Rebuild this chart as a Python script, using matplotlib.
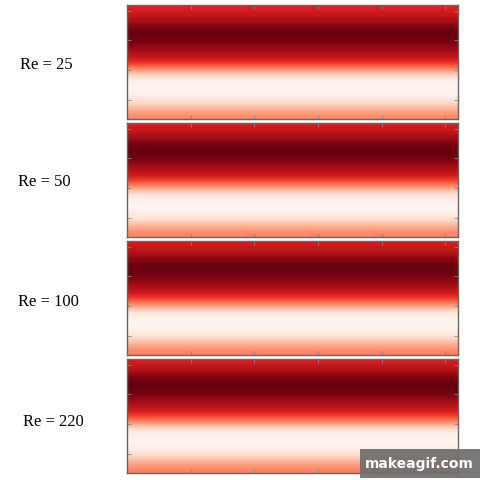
import matplotlib
matplotlib.use("Agg")
import matplotlib.pyplot as plt
from matplotlib.patches import Rectangle
import numpy as np

# Reynolds numbers shown next to each panel
re_values = [25, 50, 100, 220]

# vertical profile of the field (top -> bottom),
# in colormap units 0..1
profile_re25 = [0.70, 0.76, 0.88, 0.98, 1.00, 0.97, 0.90, 0.80, 0.68,
                0.42, 0.14, 0.02, 0.00, 0.04, 0.14, 0.28, 0.40]
profile_re50 = [0.72, 0.80, 0.92, 0.99, 1.00, 0.96, 0.88, 0.78, 0.64,
                0.38, 0.12, 0.02, 0.00, 0.04, 0.15, 0.30, 0.42]
profile_re100 = [0.72, 0.80, 0.92, 0.99, 1.00, 0.96, 0.88, 0.78, 0.64,
                 0.38, 0.12, 0.02, 0.00, 0.04, 0.15, 0.30, 0.42]
profile_re220 = [0.72, 0.82, 0.94, 1.00, 1.00, 0.95, 0.87, 0.76, 0.62,
                 0.36, 0.11, 0.02, 0.00, 0.05, 0.16, 0.31, 0.43]
profiles = [profile_re25, profile_re50, profile_re100, profile_re220]

# label positions (pixels from top) and panel tops/bottoms
label_x = [20, 18, 18, 23]
label_y = [65, 182, 302, 422]
panel_top = [5, 123, 241, 359]
panel_bot = [119, 237, 355, 473]

W = H = 480
fig = plt.figure(figsize=(4.8, 4.8), dpi=100)

left, right = 127, 458
for i, prof in enumerate(profiles):
    ax = fig.add_axes([left / W, 1 - panel_bot[i] / H,
                       (right - left) / W, (panel_bot[i] - panel_top[i]) / H])
    field = np.tile(np.array(prof)[:, None], (1, 8))
    ax.imshow(field, cmap="Reds", vmin=0, vmax=1, aspect="auto",
              interpolation="bicubic", extent=[0, 5.2, 0, 1], origin="upper")
    ax.set_xlim(0, 5.2)
    ax.set_ylim(0, 1)
    ax.set_xticks([1, 2, 3, 4, 5])
    ax.set_yticks([0.17, 0.43, 0.69, 0.95])
    ax.tick_params(direction="in", length=3, width=0.6, colors="#888888",
                   top=True, right=True, labelleft=False, labelbottom=False)
    for s in ax.spines.values():
        s.set_color("#666666")
        s.set_linewidth(1.0)
    fig.text(label_x[i] / W, 1 - label_y[i] / H, "Re = %d" % re_values[i],
             family="Liberation Serif", fontsize=12, ha="left", va="center")

# watermark
fig.patches.append(Rectangle((360 / W, 1 - 478 / H), 120 / W, 29 / H,
                             transform=fig.transFigure, fc="#6e6e6e", ec="none",
                             alpha=0.92, zorder=5))
fig.text(419 / W, 1 - 464 / H, "makeagif.com", color="white", fontsize=10,
         fontweight="bold", family="DejaVu Sans", ha="center", va="center",
         zorder=6)

fig.savefig("out.png", dpi=100)
